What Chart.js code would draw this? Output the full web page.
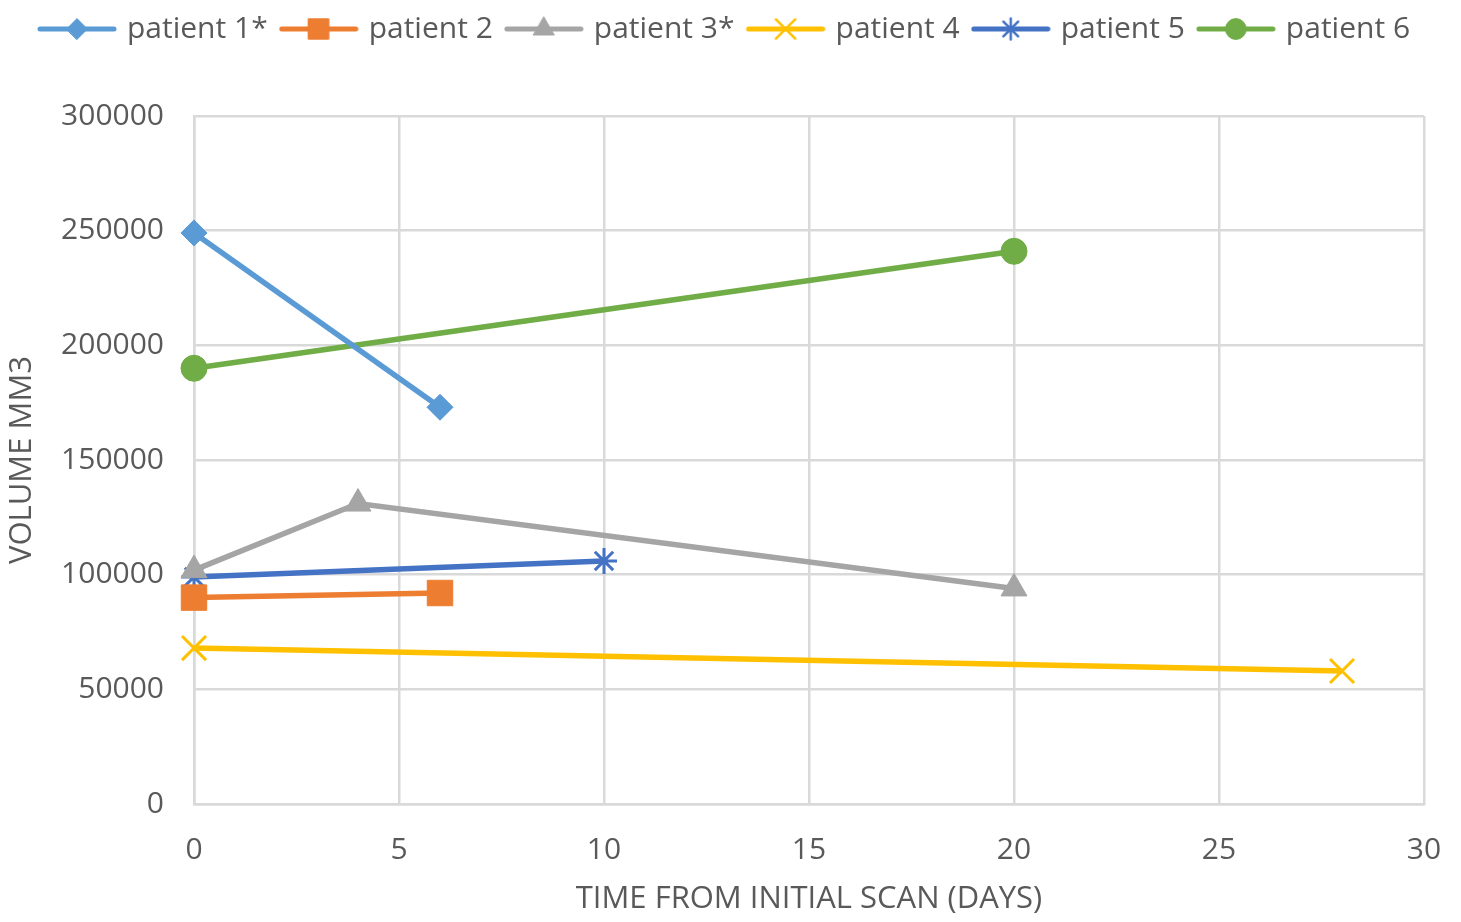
<!DOCTYPE html>
<html>
<head>
<meta charset="utf-8">
<style>
  html, body { margin: 0; padding: 0; background: #fff; }
  #wrap { width: 1461px; height: 922px; }
</style>
<script src="https://cdn.jsdelivr.net/npm/chart.js@4/dist/chart.umd.min.js"></script>
</head>
<body>
<div id="wrap"><canvas id="volumeChart"></canvas></div>
<script>
// patient data: days from initial scan and volume (mm3)
const patientNames = ["patient 1*", "patient 2", "patient 3*", "patient 4", "patient 5", "patient 6"];
const p1Days = [0, 6];       const p1Volume = [249000, 173000];
const p2Days = [0, 6];       const p2Volume = [90000, 92000];
const p3Days = [0, 4, 20];   const p3Volume = [102000, 131000, 94000];
const p4Days = [0, 28];      const p4Volume = [68000, 58000];
const p5Days = [0, 10];      const p5Volume = [99000, 106000];
const p6Days = [0, 20];      const p6Volume = [190000, 241000];

const xTicks = [0, 5, 10, 15, 20, 25, 30];
const yTicks = [0, 50000, 100000, 150000, 200000, 250000, 300000];

const colors = ["#5B9BD5", "#ED7D31", "#A5A5A5", "#FFC000", "#4472C4", "#70AD47"];
const styles = ["rectRot", "rect", "triangle", "crossRot", "star", "circle"];
const radii = [13, 18, 15, 17, 13, 13];

const allDays = [p1Days, p2Days, p3Days, p4Days, p5Days, p6Days];
const allVolume = [p1Volume, p2Volume, p3Volume, p4Volume, p5Volume, p6Volume];

const textColor = "#595959";
const fontFamily = "'Open Sans', sans-serif";

// legend icon: line with the marker in the middle
function legendIcon(i) {
    const c = document.createElement("canvas");
    c.width = 80; c.height = 30;
    const g = c.getContext("2d");
    g.strokeStyle = colors[i];
    g.fillStyle = colors[i];
    g.lineWidth = 5;
    g.lineCap = "round";
    g.beginPath(); g.moveTo(3, 15); g.lineTo(77, 15); g.stroke();
    const thin = styles[i] === "crossRot" || styles[i] === "star";
    g.lineWidth = thin ? 2.5 : 1;
    Chart.helpers.drawPoint(g, {
        pointStyle: styles[i], radius: radii[i] * 0.8, rotation: 0, borderWidth: thin ? 2.5 : 1
    }, 40, 15);
    return c;
}

const datasets = patientNames.map((name, i) => ({
    label: name,
    data: allDays[i].map((d, k) => ({ x: d, y: allVolume[i][k] })),
    showLine: true,
    clip: false,
    borderColor: colors[i],
    backgroundColor: colors[i],
    borderWidth: 5.5,
    pointStyle: styles[i],
    pointRadius: radii[i],
    pointBorderWidth: (styles[i] === "crossRot" || styles[i] === "star") ? 3 : 1,
    pointBorderColor: colors[i],
    pointBackgroundColor: colors[i]
}));

Chart.defaults.font.family = fontFamily;
Chart.defaults.color = textColor;

const icons = patientNames.map((n, i) => legendIcon(i));

// extra room under the legend, and nudge it right a little
const legendGap = {
    id: "legendGap",
    beforeInit(chart) {
        const fit = chart.legend.fit;
        chart.legend.fit = function () {
            fit.bind(chart.legend)();
            this.height += 60;
        };
    },
    afterLayout(chart) {
        chart.legend.left += 14;
        chart.legend.right += 14;
        chart.legend.top -= 2;
    }
};

const ctx = document.getElementById("volumeChart").getContext("2d");
new Chart(ctx, {
    type: "scatter",
    data: { datasets: datasets },
    plugins: [legendGap],
    options: {
        responsive: true,
        maintainAspectRatio: false,
        animation: false,
        layout: { padding: { top: 0, right: 37, left: 0, bottom: 0 } },
        plugins: {
            tooltip: { enabled: false },
            legend: {
                position: "top",
                labels: {
                    usePointStyle: true,
                    pointStyleWidth: 70,
                    padding: 16,
                    font: { size: 30 },
                    color: textColor,
                    generateLabels: chart => chart.data.datasets.map((ds, i) => ({
                        text: ds.label,
                        pointStyle: icons[i],
                        fillStyle: ds.borderColor,
                        strokeStyle: ds.borderColor,
                        lineWidth: 0,
                        hidden: false,
                        datasetIndex: i,
                        fontColor: textColor
                    }))
                }
            }
        },
        scales: {
            x: {
                type: "linear",
                min: 0, max: 30,
                afterBuildTicks: s => { s.ticks = xTicks.map(v => ({ value: v })); },
                afterFit: s => { s.height = 118; s.paddingRight = 0; s.paddingLeft = 0; },
                grid: { color: "#d9d9d9", lineWidth: 2.5, drawTicks: false },
                border: { color: "#d9d9d9", width: 2.5 },
                ticks: { font: { size: 30 }, padding: 28, color: textColor, callback: v => String(v) },
                title: {
                    display: true, text: "TIME FROM INITIAL SCAN (DAYS)",
                    font: { size: 31 }, color: textColor, padding: { top: 18 }
                }
            },
            y: {
                min: 0, max: 300000,
                afterBuildTicks: s => { s.ticks = yTicks.map(v => ({ value: v })); },
                afterFit: s => { s.width = 194; },
                grid: { color: "#d9d9d9", lineWidth: 2.5, drawTicks: false },
                border: { color: "#d9d9d9", width: 2.5 },
                ticks: { font: { size: 30 }, padding: 30, color: textColor, callback: v => String(v) },
                title: {
                    display: true, text: "VOLUME MM3",
                    font: { size: 31 }, color: textColor, padding: { bottom: 2 }
                }
            }
        }
    }
});
</script>
</body>
</html>
